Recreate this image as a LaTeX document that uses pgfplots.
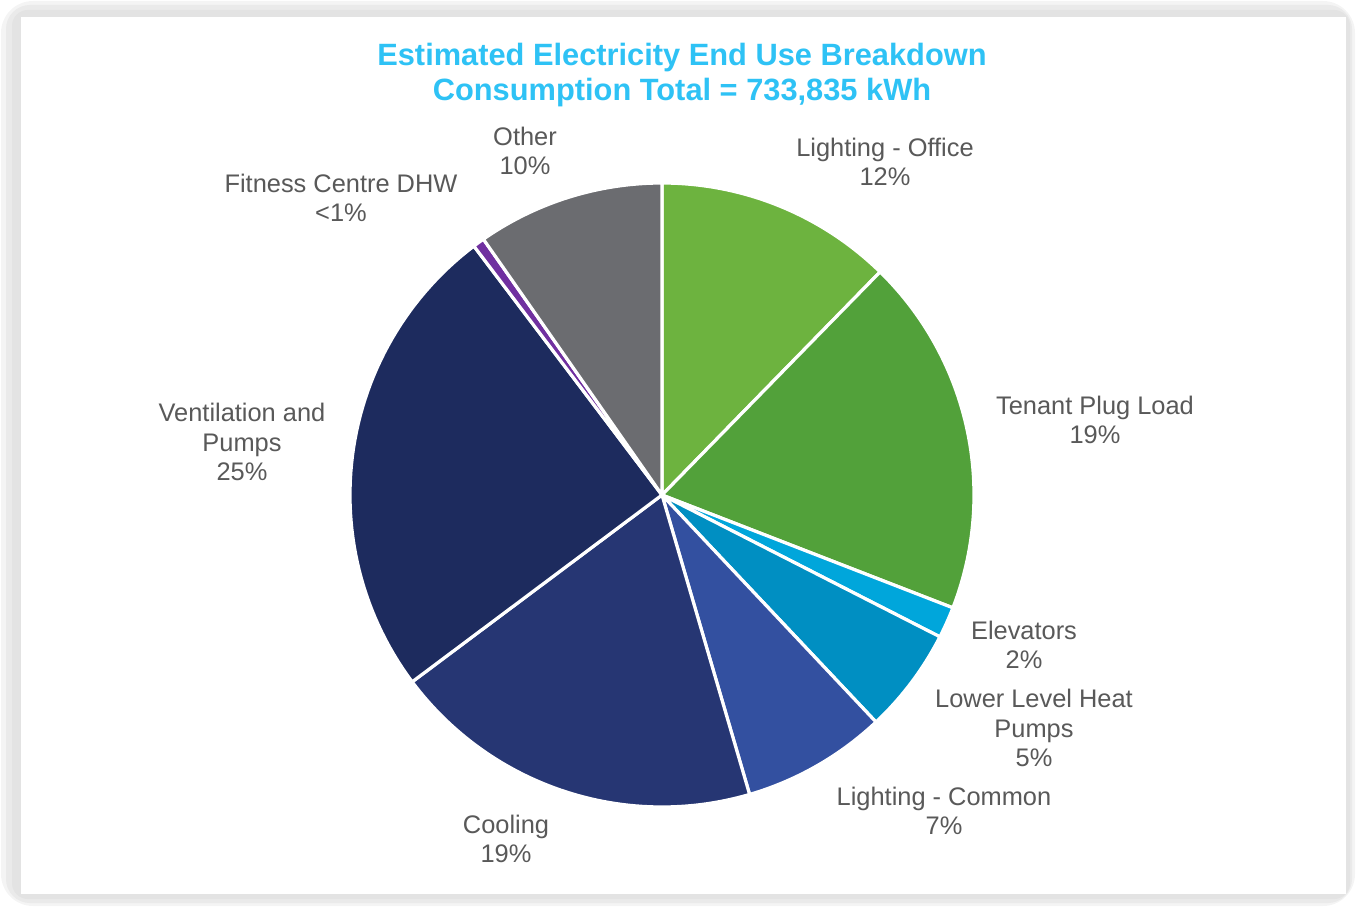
\documentclass[border=0pt]{standalone}
\usepackage{pgfplots}
\pgfplotsset{compat=1.18}
\usepackage{fontspec}
\setmainfont{Liberation Sans}
\definecolor{cLO}{HTML}{6DB33F}
\definecolor{cTP}{HTML}{52A13A}
\definecolor{cEL}{HTML}{00A6DB}
\definecolor{cLL}{HTML}{008FC2}
\definecolor{cLC}{HTML}{3350A0}
\definecolor{cCO}{HTML}{263673}
\definecolor{cVE}{HTML}{1D2B5E}
\definecolor{cFI}{HTML}{7030A0}
\definecolor{cOT}{HTML}{6B6C70}
\definecolor{labelgray}{HTML}{595959}
\definecolor{titleblue}{HTML}{2EC2F5}
\definecolor{frameouter}{HTML}{F4F4F4}
\definecolor{frameinner}{HTML}{EAEAEA}
\definecolor{framecore}{HTML}{E3E3E3}
\begin{document}
\begin{tikzpicture}
\begin{axis}[at={(0,0)}, anchor=south west, width=678pt, height=453.5pt, scale only axis,
  xmin=0, xmax=1356, ymin=0, ymax=907, hide axis, clip=false]
\path (axis cs:0,0) rectangle (axis cs:1356,907);
\fill[frameouter, rounded corners=16pt] (axis cs:1,1) rectangle (axis cs:1355,906);
\fill[frameinner, rounded corners=12pt] (axis cs:6,4) rectangle (axis cs:1352,902);
\fill[framecore, rounded corners=8pt] (axis cs:12,8) rectangle (axis cs:1350,897);
\fill[white] (axis cs:21,13) rectangle (axis cs:1346,890);
\pgfplotsset{wedge/.style={draw=white, line width=1.6pt, samples=60, variable=\t}}
\addplot[wedge, fill=cLO, domain=0:12.32] ({662+312*sin(3.6*\t)},{412+312*cos(3.6*\t)}) -- (axis cs:662,412) -- cycle;
\addplot[wedge, fill=cTP, domain=12.32:30.89] ({662+312*sin(3.6*\t)},{412+312*cos(3.6*\t)}) -- (axis cs:662,412) -- cycle;
\addplot[wedge, fill=cEL, domain=30.89:32.51] ({662+312*sin(3.6*\t)},{412+312*cos(3.6*\t)}) -- (axis cs:662,412) -- cycle;
\addplot[wedge, fill=cLL, domain=32.51:37.97] ({662+312*sin(3.6*\t)},{412+312*cos(3.6*\t)}) -- (axis cs:662,412) -- cycle;
\addplot[wedge, fill=cLC, domain=37.97:45.47] ({662+312*sin(3.6*\t)},{412+312*cos(3.6*\t)}) -- (axis cs:662,412) -- cycle;
\addplot[wedge, fill=cCO, domain=45.47:64.78] ({662+312*sin(3.6*\t)},{412+312*cos(3.6*\t)}) -- (axis cs:662,412) -- cycle;
\addplot[wedge, fill=cVE, domain=64.78:89.7] ({662+312*sin(3.6*\t)},{412+312*cos(3.6*\t)}) -- (axis cs:662,412) -- cycle;
\addplot[wedge, fill=cFI, domain=89.7:90.3, samples=5] ({662+312*sin(3.6*\t)},{412+312*cos(3.6*\t)}) -- (axis cs:662,412) -- cycle;
\addplot[wedge, fill=cOT, domain=90.3:100] ({662+312*sin(3.6*\t)},{412+312*cos(3.6*\t)}) -- (axis cs:662,412) -- cycle;
\tikzset{lab/.style={align=center, text=labelgray, font=\fontsize{12.7}{14.75}\selectfont, inner sep=0pt}}
\node[lab] at (axis cs:885,745) {Lighting - Office\\12\%};
\node[lab] at (axis cs:525,756) {Other\\10\%};
\node[lab] at (axis cs:341,709) {Fitness Centre DHW\\<1\%};
\node[lab] at (axis cs:1095,487) {Tenant Plug Load\\19\%};
\node[lab] at (axis cs:1024,262) {Elevators\\2\%};
\node[lab] at (axis cs:1034,179) {Lower Level Heat\\Pumps\\5\%};
\node[lab] at (axis cs:944,96) {Lighting - Common\\7\%};
\node[lab] at (axis cs:506,68) {Cooling\\19\%};
\node[lab] at (axis cs:242,465) {Ventilation and\\Pumps\\25\%};
\node[align=center, text=titleblue, font=\fontsize{15.4}{17.5}\selectfont\bfseries, inner sep=0pt] at (axis cs:682,832) {Estimated Electricity End Use Breakdown\\Consumption Total = 733,835 kWh};
\end{axis}
\end{tikzpicture}
\end{document}
